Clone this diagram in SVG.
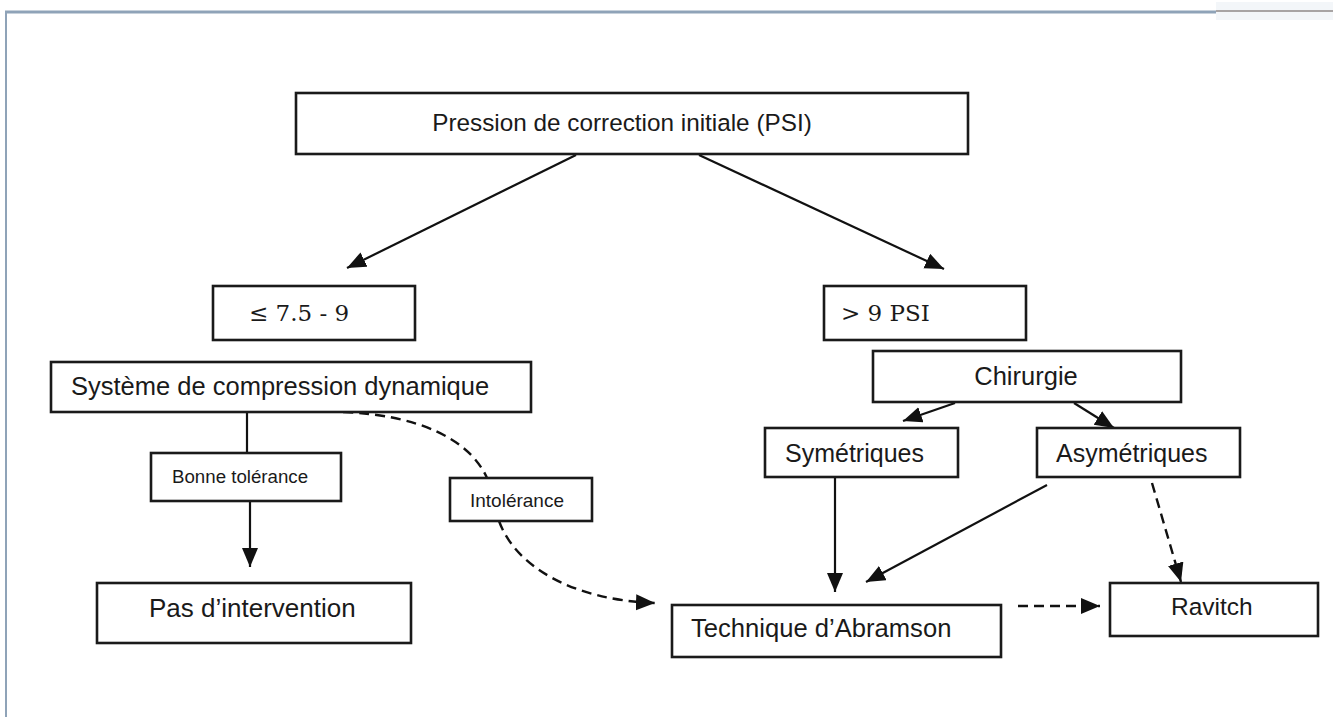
<svg xmlns="http://www.w3.org/2000/svg" width="1333" height="717" viewBox="0 0 1333 717">
<style>
.box{fill:#fff;stroke:#1a1a1a;stroke-width:2.6}
.t{font-family:"Liberation Sans",Arial,sans-serif;fill:#1a1a1a}
.s{font-family:"DejaVu Serif","Liberation Serif",serif;fill:#1a1a1a;font-size:23px}
.c{fill:none;stroke:#111;stroke-width:2.2}
.d{fill:none;stroke:#111;stroke-width:2.4;stroke-dasharray:10 6}
</style>
<defs>
<marker id="ah" markerUnits="userSpaceOnUse" markerWidth="22" markerHeight="18" refX="19" refY="8" orient="auto">
<path d="M0,0 L19,8 L0,16 z" fill="#111"/>
</marker>
</defs>
<rect x="0" y="0" width="1333" height="717" fill="#fff"/>
<g id="frame">
<line x1="5" y1="12" x2="1216" y2="12" stroke="#8fa3b8" stroke-width="3"/>
<rect x="1216" y="2" width="117" height="18" fill="#f3f6f9"/>
<line x1="1216" y1="11" x2="1333" y2="11" stroke="#a8a4a4" stroke-width="2"/>
<line x1="6" y1="12" x2="6" y2="717" stroke="#8fa3b8" stroke-width="2"/>
</g>
<g id="connectors">
<path class="c" d="M576,155 L347,268" marker-end="url(#ah)"/>
<path class="c" d="M699,155 L944,269" marker-end="url(#ah)"/>
<path class="c" d="M955,403 L903,421" marker-end="url(#ah)"/>
<path class="c" d="M1074,403 L1114,428" marker-end="url(#ah)"/>
<path class="c" d="M247,412 L247,453"/>
<path class="c" d="M250,501 L250,567" marker-end="url(#ah)"/>
<path class="d" d="M343,412 C420,415 470,440 487,478"/>
<path class="d" d="M499,521 C515,565 570,600 655,603" marker-end="url(#ah)"/>
<path class="c" d="M835,477 L835,592" marker-end="url(#ah)"/>
<path class="c" d="M1047,485 L866,582" marker-end="url(#ah)"/>
<path class="d" d="M1152,483 L1181,582" marker-end="url(#ah)"/>
<path class="d" d="M1018,606 L1100,606" marker-end="url(#ah)"/>
</g>
<g id="n-top"><rect class="box" x="296" y="93" width="672" height="61"/><text class="t" x="622" y="131" font-size="24.3" text-anchor="middle">Pression de correction initiale (PSI)</text></g>
<g id="n-le"><rect class="box" x="213" y="286" width="202" height="54"/><text class="s" x="249" y="321">≤ 7.5 - 9</text></g>
<g id="n-gt"><rect class="box" x="824" y="286" width="202" height="54"/><text class="s" x="841" y="321">&gt; 9 PSI</text></g>
<g id="n-sys"><rect class="box" x="51" y="362" width="480" height="50"/><text class="t" x="71" y="395" font-size="25.5">Système de compression dynamique</text></g>
<g id="n-chir"><rect class="box" x="873" y="351" width="308" height="51"/><text class="t" x="1026" y="385" font-size="25.5" text-anchor="middle">Chirurgie</text></g>
<g id="n-sym"><rect class="box" x="765" y="428" width="193" height="49"/><text class="t" x="785" y="462" font-size="25">Symétriques</text></g>
<g id="n-asym"><rect class="box" x="1037" y="428" width="203" height="49"/><text class="t" x="1056" y="462" font-size="25">Asymétriques</text></g>
<g id="n-bonne"><rect class="box" x="151" y="453" width="190" height="48"/><text class="t" x="172" y="483" font-size="18.7">Bonne tolérance</text></g>
<g id="n-intol"><rect class="box" x="450" y="478" width="142" height="43"/><text class="t" x="470" y="507" font-size="19">Intolérance</text></g>
<g id="n-pas"><rect class="box" x="97" y="583" width="314" height="60"/><text class="t" x="149" y="617" font-size="26">Pas d’intervention</text></g>
<g id="n-abram"><rect class="box" x="672" y="605" width="329" height="52"/><text class="t" x="691" y="637" font-size="25.6">Technique d’Abramson</text></g>
<g id="n-ravitch"><rect class="box" x="1110" y="583" width="208" height="53"/><text class="t" x="1171" y="615" font-size="24.5">Ravitch</text></g>
</svg>
